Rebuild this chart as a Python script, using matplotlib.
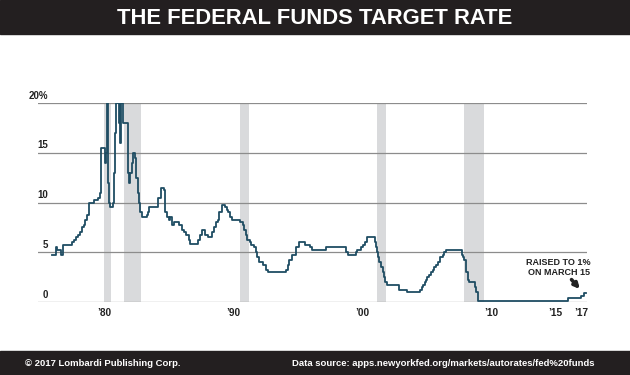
import matplotlib
matplotlib.use("Agg")
import matplotlib.pyplot as plt
from matplotlib.patches import Rectangle
from matplotlib.transforms import blended_transform_factory

# Fed funds target rate (decimal year, percent)
years = [
    1976.00, 1976.25, 1976.35, 1976.70, 1976.85, 1977.55, 1977.70, 1977.85,
    1978.00, 1978.15, 1978.30, 1978.45, 1978.55, 1978.65, 1978.80, 1978.87,
    1979.25, 1979.55, 1979.65, 1979.75, 1979.80, 1980.05, 1980.12, 1980.20,
    1980.24, 1980.33, 1980.38, 1980.43, 1980.72, 1980.80, 1980.88, 1980.93,
    1981.15, 1981.20, 1981.25, 1981.32, 1981.45, 1981.88, 1981.93, 1982.05,
    1982.15, 1982.25, 1982.40, 1982.50, 1982.60, 1982.70, 1982.80, 1982.95,
    1983.30, 1983.40, 1983.50, 1984.20, 1984.45, 1984.65, 1984.72, 1984.85,
    1985.00, 1985.10, 1985.25, 1985.45, 1985.80, 1986.05, 1986.20, 1986.35,
    1986.55, 1986.65, 1987.30, 1987.45, 1987.60, 1987.85, 1988.10, 1988.35,
    1988.50, 1988.65, 1988.80, 1988.95, 1989.15, 1989.40, 1989.50, 1989.60,
    1989.80, 1989.95, 1990.55, 1990.75, 1990.85, 1991.00, 1991.10, 1991.30,
    1991.40, 1991.65, 1991.80, 1991.90, 1992.00, 1992.30, 1992.55, 1992.70,
    1994.10, 1994.25, 1994.35, 1994.60, 1994.85, 1995.10, 1995.55, 1995.95,
    1996.10, 1997.23, 1998.75, 1998.80, 1998.88, 1999.50, 1999.65, 1999.90,
    2000.10, 2000.25, 2000.38, 2001.00, 2001.08, 2001.20, 2001.25, 2001.35,
    2001.45, 2001.50, 2001.65, 2001.72, 2001.80, 2001.95, 2002.85, 2003.48,
    2004.50, 2004.62, 2004.72, 2004.87, 2004.95, 2005.08, 2005.22, 2005.37,
    2005.50, 2005.62, 2005.75, 2005.87, 2006.08, 2006.25, 2006.37, 2006.50,
    2007.72, 2007.83, 2007.95, 2008.05, 2008.08, 2008.22, 2008.33, 2008.75,
    2008.82, 2008.96, 2015.96, 2016.95, 2017.20, 2017.40,
]
rates = [
    4.75, 5.50, 5.25, 4.75, 5.75, 6.00, 6.25, 6.50,
    6.75, 7.00, 7.50, 7.75, 8.25, 8.75, 9.00, 10.00,
    10.25, 10.50, 11.00, 11.50, 15.50, 14.00, 15.00, 17.00,
    20.00, 12.00, 10.00, 9.50, 10.00, 13.00, 17.00, 20.00,
    18.00, 20.00, 16.00, 20.00, 18.00, 13.00, 12.00, 13.00,
    14.00, 15.00, 14.50, 12.50, 11.00, 10.00, 9.00, 8.50,
    8.75, 9.00, 9.50, 10.50, 11.50, 11.25, 9.00, 8.50,
    8.25, 8.50, 7.75, 8.00, 7.75, 7.25, 7.00, 6.75,
    6.25, 5.875, 6.25, 6.75, 7.25, 6.75, 6.50, 7.00,
    7.50, 8.00, 8.25, 9.00, 9.75, 9.50, 9.25, 9.00,
    8.50, 8.25, 8.00, 7.75, 7.25, 6.75, 6.25, 6.00,
    5.75, 5.50, 5.00, 4.50, 4.00, 3.75, 3.25, 3.00,
    3.25, 3.75, 4.25, 4.75, 5.50, 6.00, 5.75, 5.50,
    5.25, 5.50, 5.25, 5.00, 4.75, 5.00, 5.25, 5.50,
    5.75, 6.00, 6.50, 6.00, 5.50, 5.00, 4.50, 4.00,
    3.75, 3.50, 3.00, 2.50, 2.00, 1.75, 1.25, 1.00,
    1.25, 1.50, 1.75, 2.00, 2.25, 2.50, 2.75, 3.00,
    3.25, 3.50, 3.75, 4.00, 4.50, 4.75, 5.00, 5.25,
    4.75, 4.50, 4.25, 3.50, 3.00, 2.25, 2.00, 1.50,
    1.00, 0.125, 0.375, 0.625, 0.875, 0.875,
]

# recessions (start, end)
rec_start = [1980.00, 1981.55, 1990.55, 2001.20, 2007.95]
rec_end = [1980.55, 1982.87, 1991.22, 2001.88, 2009.50]

ytick_vals = [0, 5, 10, 15, 20]
ytick_text = ["0", "5", "10", "15", "20%"]
xtick_vals = [1980, 1990, 2000, 2010, 2015, 2017]
xtick_text = ["\u201980", "\u201990", "\u201900", "\u201910", "\u201915", "\u201917"]

DARK = "#231f20"
LINE = "#1f4d63"
GRID = "#8c8c8c"
RECESS = "#d9dadc"
INK = "#222222"
FONT = "Liberation Sans"

W, H = 630, 375
fig = plt.figure(figsize=(W / 100, H / 100), dpi=100)
fig.patch.set_facecolor("white")

# title and footer bars
fig.patches.append(Rectangle((0, 1 - 34 / H), 1, 34 / H, transform=fig.transFigure,
                             color=DARK, zorder=0))
fig.patches.append(Rectangle((0, 0), 1, 24 / H, transform=fig.transFigure,
                             color=DARK, zorder=0))
fig.text(0.5, 1 - 18 / H, "THE FEDERAL FUNDS TARGET RATE", color="white",
         fontsize=15.8, fontweight="bold", family=FONT, ha="center", va="center")
fig.text(25 / W, 12 / H, "\u00a9 2017 Lombardi Publishing Corp.", color="white",
         fontsize=6.8, fontweight="bold", family=FONT, ha="left", va="center")
fig.text(292 / W, 12 / H, "Data source: apps.newyorkfed.org/markets/autorates/fed%20funds",
         color="white", fontsize=6.8, fontweight="bold", family=FONT,
         ha="left", va="center")

ax = fig.add_axes([38 / W, 73 / H, 549 / W, 199 / H])
ax.set_xlim(1974.88, 2017.45)
ax.set_ylim(0, 20)
for s in ax.spines.values():
    s.set_visible(False)
ax.set_xticks([])
ax.set_yticks([])
ax.patch.set_alpha(0)

for a, b in zip(rec_start, rec_end):
    ax.axvspan(a, b, color=RECESS, lw=0, zorder=1)

for v in ytick_vals:
    ax.axhline(v, color=GRID, lw=0.9, zorder=2)

ax.plot(years, rates, drawstyle="steps-post", color=LINE, lw=1.3, zorder=3)

tr = blended_transform_factory(ax.transAxes, ax.transData)
for v, t in zip(ytick_vals, ytick_text):
    ax.text(10 / 549, v + 0.25, t, transform=tr, ha="right", va="bottom",
            fontsize=7, fontweight="bold", family=FONT, color=INK)

for v, t in zip(xtick_vals, xtick_text):
    ax.text(v, -1.1, t, ha="center", va="center", fontsize=7.3,
            fontweight="bold", family=FONT, color=INK, clip_on=False)

ax.text(2015.25, 3.5, "RAISED TO 1%\nON MARCH 15", ha="center", va="center",
        fontsize=6.5, fontweight="bold", family=FONT, color=INK,
        linespacing=1.1)
ax.annotate("", xy=(2016.9, 1.3), xytext=(2016.25, 2.25),
            arrowprops=dict(arrowstyle="-|>", color=INK, lw=2.6,
                            mutation_scale=7.5, shrinkA=0, shrinkB=0))

fig.savefig("out.png", dpi=100)
